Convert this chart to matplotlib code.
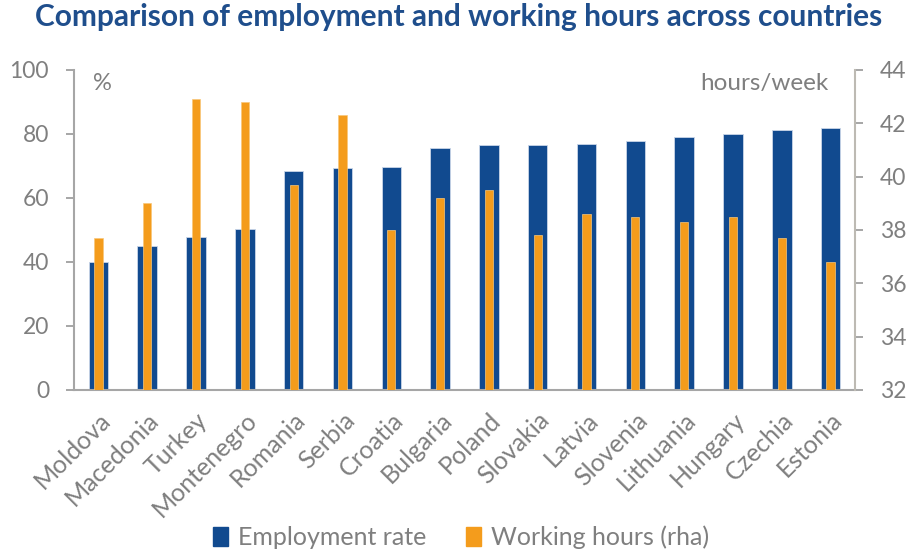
import matplotlib
matplotlib.use("Agg")
import matplotlib.pyplot as plt
import numpy as np
from matplotlib.patches import Patch

countries = ["Moldova", "Macedonia", "Turkey", "Montenegro", "Romania", "Serbia",
             "Croatia", "Bulgaria", "Poland", "Slovakia", "Latvia", "Slovenia",
             "Lithuania", "Hungary", "Czechia", "Estonia"]
employment_rate = [40.0, 45.1, 47.9, 50.3, 68.3, 69.3, 69.6, 75.6, 76.7, 76.7,
                   77.0, 77.9, 79.0, 80.1, 81.2, 81.9]
working_hours = [37.7, 39.0, 42.9, 42.8, 39.7, 42.3, 38.0, 39.2, 39.5, 37.8,
                 38.6, 38.5, 38.3, 38.5, 37.7, 36.8]

BLUE = "#114a8f"
ORANGE = "#f49c1c"
GREY = "#7f7f7f"
AXIS = "#a6a6a6"

plt.rcParams["font.family"] = ["Lato", "DejaVu Sans"]

fig = plt.figure(figsize=(9.13, 5.56), dpi=100)
ax = fig.add_axes([74 / 913, 1 - 390 / 556, 781 / 913, 320 / 556])
ax2 = ax.twinx()

x = np.arange(len(countries))
# employment on the left axis, hours as thin bars on the right axis
ax.bar(x, employment_rate, width=0.4, color=BLUE, edgecolor="#c9d6e8",
       linewidth=0.6, zorder=2)
ax2.bar(x, working_hours, width=0.17, color=ORANGE, edgecolor="#f8c77a",
        linewidth=0.5, zorder=3)

ax.set_xlim(-0.5, len(countries) - 0.5)
ax.set_ylim(0, 100)
ax2.set_ylim(32, 44)
ax.set_yticks(range(0, 101, 20))
ax2.set_yticks(range(32, 45, 2))

for a in (ax, ax2):
    a.spines["top"].set_visible(False)
    a.tick_params(axis="y", colors=GREY, labelsize=16.5, length=6, width=1.4,
                  color=AXIS, pad=12)
ax.spines["right"].set_visible(False)
ax2.spines["left"].set_visible(False)
ax2.spines["bottom"].set_visible(False)
ax.spines["left"].set_color(AXIS)
ax.spines["bottom"].set_color(AXIS)
ax2.spines["right"].set_color("#bdbab3")
for s in ("left", "bottom"):
    ax.spines[s].set_linewidth(1.5)
ax2.spines["right"].set_linewidth(1.5)

ax.set_xticks(x)
ax.set_xticklabels(countries, rotation=45, ha="right", rotation_mode="anchor",
                   color=GREY, fontsize=18)
ax.tick_params(axis="x", length=0, pad=13)

ax.text(0.024, 0.99, "%", transform=ax.transAxes, color=GREY, fontsize=17,
        va="top", ha="left")
ax.text(0.966, 0.99, "hours/week", transform=ax.transAxes, color=GREY,
        fontsize=17.5, va="top", ha="right")

ax.set_zorder(ax2.get_zorder() - 1)
ax2.patch.set_visible(False)

fig.suptitle("Comparison of employment and working hours across countries",
             x=0.502, y=0.995, color="#1f4e8c", fontsize=21.5, fontweight="bold")

handles = [Patch(facecolor=BLUE, edgecolor=BLUE, label="Employment rate"),
           Patch(facecolor=ORANGE, edgecolor=ORANGE, label="Working hours (rha)")]
fig.legend(handles=handles, loc="lower center", bbox_to_anchor=(0.505, -0.028),
           ncol=2, frameon=False, fontsize=18, labelcolor=GREY,
           handlelength=0.6, handleheight=0.75, columnspacing=1.6,
           handletextpad=0.4)

fig.savefig("out.png", dpi=100)
